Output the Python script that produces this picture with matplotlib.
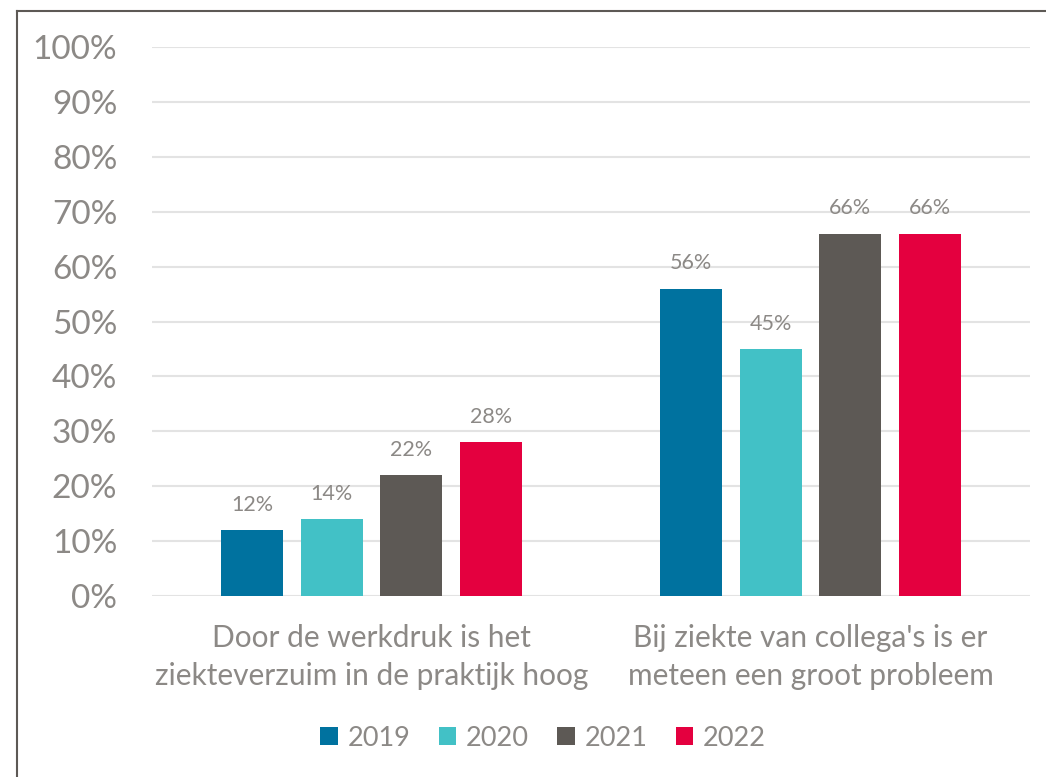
import matplotlib
matplotlib.use("Agg")
import matplotlib.pyplot as plt
from matplotlib.lines import Line2D
from matplotlib.patches import Patch
import numpy as np

categories = ["Door de werkdruk is het\nziekteverzuim in de praktijk hoog",
              "Bij ziekte van collega's is er\nmeteen een groot probleem"]
years = ["2019", "2020", "2021", "2022"]
values = {
    "2019": [12, 56],
    "2020": [14, 45],
    "2021": [22, 66],
    "2022": [28, 66],
}
colors = ["#00729F", "#42C1C6", "#5D5955", "#E4003F"]
text_gray = "#8C8986"

plt.rcParams['font.family'] = ['Lato', 'DejaVu Sans']

W, H = 1046, 777
fig = plt.figure(figsize=(W / 100, H / 100), dpi=100)
ax = fig.add_axes([152 / W, (H - 596) / H, 878 / W, (596 - 47) / H])

x = np.arange(len(categories))
pitch = 0.1815
width = 0.141
for i, yr in enumerate(years):
    pos = x + (i - 1.5) * pitch
    bars = ax.bar(pos, values[yr], width, color=colors[i], zorder=3)
    for b, v in zip(bars, values[yr]):
        ax.annotate(f"{v}%", (b.get_x() + b.get_width() / 2, v),
                    xytext=(0, 11), textcoords="offset points",
                    ha="center", va="bottom", fontsize=15.5, color=text_gray)

ax.set_xlim(-0.5, 1.5)
ax.set_ylim(0, 100)
ax.set_yticks(range(0, 101, 10))
ax.set_yticklabels([f"{t}%" for t in range(0, 101, 10)])
ax.set_xticks(x)
ax.set_xticklabels(categories, linespacing=1.45)
ax.tick_params(axis="y", length=0, pad=25, labelsize=24, labelcolor=text_gray)
ax.tick_params(axis="x", length=0, pad=20, labelsize=21.5, labelcolor=text_gray)
ax.grid(axis="y", color="#E3E3E3", linewidth=1.5, zorder=0)
for s in ax.spines.values():
    s.set_visible(False)

handles = [Patch(facecolor=c, edgecolor="none") for c in colors]
fig.legend(handles, years, loc="center", bbox_to_anchor=(543 / W, 1 - 738 / H),
           ncol=4, frameon=False, fontsize=19.5, labelcolor=text_gray,
           handlelength=0.65, handleheight=0.65, handletextpad=0.35,
           columnspacing=1.05)

# chart border (top and left visible in reference)
fig.add_artist(Line2D([17 / W, 1], [1 - 11 / H, 1 - 11 / H], color="#5D5955",
                      linewidth=1.5, transform=fig.transFigure))
fig.add_artist(Line2D([17 / W, 17 / W], [0, 1 - 11 / H], color="#5D5955",
                      linewidth=1.5, transform=fig.transFigure))

fig.savefig("out.png", dpi=100)
